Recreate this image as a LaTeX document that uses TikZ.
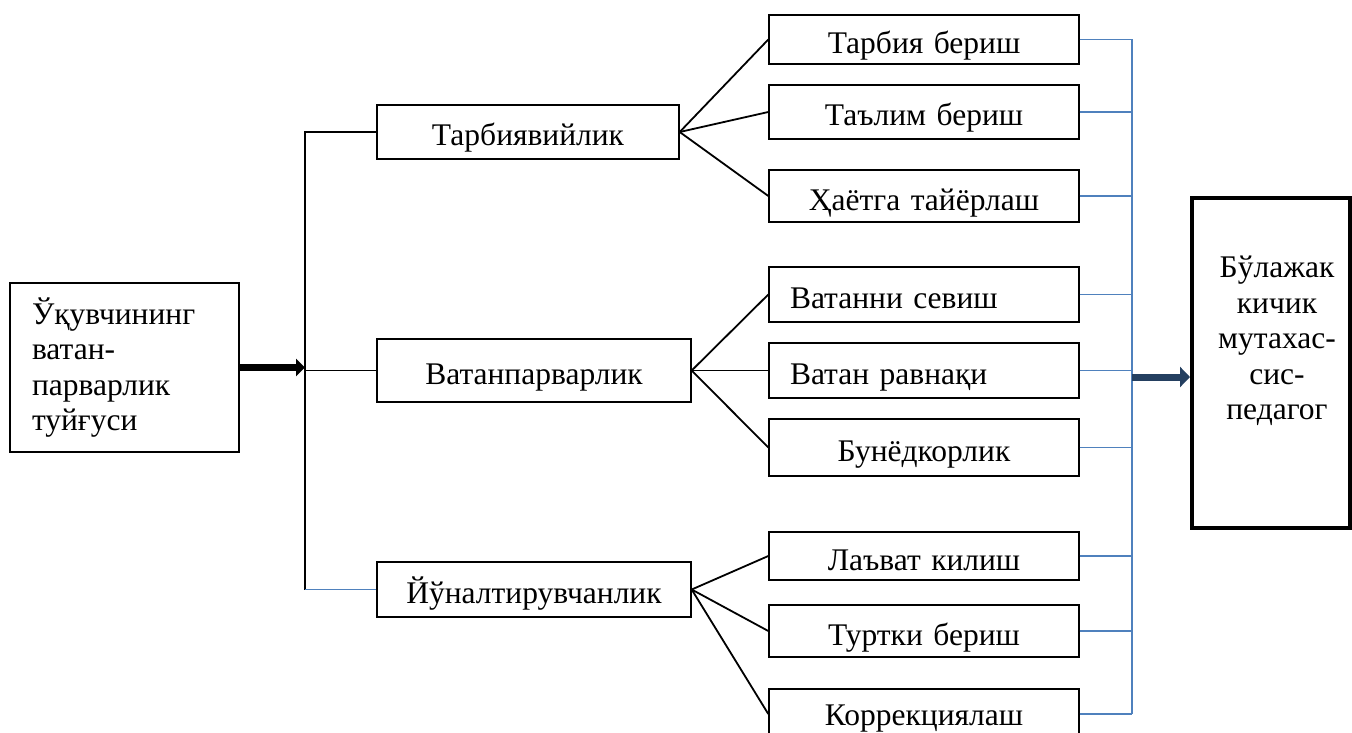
\documentclass[tikz,border=0pt]{standalone}
\usepackage{fontspec}
\setmainfont{Liberation Serif}
\usetikzlibrary{positioning,arrows.meta}
\definecolor{busblue}{RGB}{79,129,189}
\definecolor{navy}{RGB}{36,63,96}

\begin{document}
\begin{tikzpicture}[x=1pt, y=-1pt,
                      every node/.style = {font=\fontsize{31.5}{35.5}\selectfont},
                      box/.style = {shape=rectangle, draw, line width=1.4pt, inner sep=0pt},
                      leaf/.style = {box, inner xsep=21pt, text width=268pt, align=center,
                        text height=28pt, text depth=0pt},
                      branch/.style = {box, text height=28pt, text depth=0pt},
                      tree/.style = {line width=1.8pt},
                      busline/.style = {draw=busblue, line width=1.8pt},
                      fatarrow/.style = {line width=7pt, -{Triangle[length=9pt,width=17pt]}},
                      navyarrow/.style = {draw=navy, fill=navy, line width=7pt,
                        -{Triangle[length=10pt,width=20pt]}}]
                      \useasboundingbox (0,0) rectangle (1352,733);
                      \node[box, minimum width=229, minimum height=169, inner xsep=22pt,
                        text width=185pt, align=left] (pupil) at (124.5,367.5)
                        {Ўқувчининг\\ватан-\\парварлик\\туйғуси};
                      \node[branch, minimum width=302, minimum height=54] (tar) at (528,132) {Тарбиявийлик};
                      \node[branch, minimum width=314, minimum height=63] (vat) at (534,370.5) {Ватанпарварлик};
                      \node[branch, minimum width=314, minimum height=55] (yon) at (534,589.5) {Йўналтирувчанлик};
                      \node[leaf, minimum height=49] (c1) at (924,39.5) {Тарбия бериш};
                      \node[leaf, minimum height=54] (c2) at (924,112) {Таълим бериш};
                      \node[leaf, minimum height=52] (c3) at (924,196) {Ҳаётга тайёрлаш};
                      \node[leaf, minimum height=55, align=left] (c4) at (924,294.5) {Ватанни севиш};
                      \node[leaf, minimum height=55, align=left] (c5) at (924,370.5) {Ватан равнақи};
                      \node[leaf, minimum height=57] (c6) at (924,447.5) {Бунёдкорлик};
                      \node[leaf, minimum height=48] (c7) at (924,556) {Лаъват килиш};
                      \node[leaf, minimum height=52] (c8) at (924,631) {Туртки бериш};
                      \node[leaf, minimum height=50] (c9) at (924,714) {};
                      \node[anchor=base] (c9txt) at (924,725) {Коррекциялаш};
                      \node[box, line width=4pt, minimum width=158, minimum height=330] (fut) at (1271,363) {};
                      \node[align=center] (futtxt) at (1277,341) {Бўлажак\\кичик\\мутахас-\\сис-\\педагог};
                      \coordinate (trunk) at (305,0);
                      \coordinate (bus) at (1132,0);
                      \coordinate (busout) at (1132,377);
                      \draw[fatarrow] (pupil.east) -- (trunk |- pupil.east);
                      \draw[tree] (tar.west) -| (trunk |- yon.west);
                      \draw[tree] (trunk |- vat.west) -- (vat.west);
                      \draw[busline] (trunk |- yon.west) -- (yon.west);
                      \foreach \c in {c1,c2,c3}
                        \draw[tree] (tar.east) -- (\c.west);
                      \foreach \c in {c4,c5,c6}
                        \draw[tree] (vat.east) -- (\c.west);
                      \foreach \c in {c7,c8,c9}
                        \draw[tree] (yon.east) -- (\c.west);
                      \foreach \c in {c1,c2,c3,c4,c5,c6,c7,c8,c9}
                        \draw[busline] (\c.east) -- (bus |- \c.east);
                      \draw[busline] (bus |- c1.east) -- (bus |- c9.east);
                      \draw[navyarrow] (busout) -- (fut.west |- busout);
                    \end{tikzpicture}
\end{document}
